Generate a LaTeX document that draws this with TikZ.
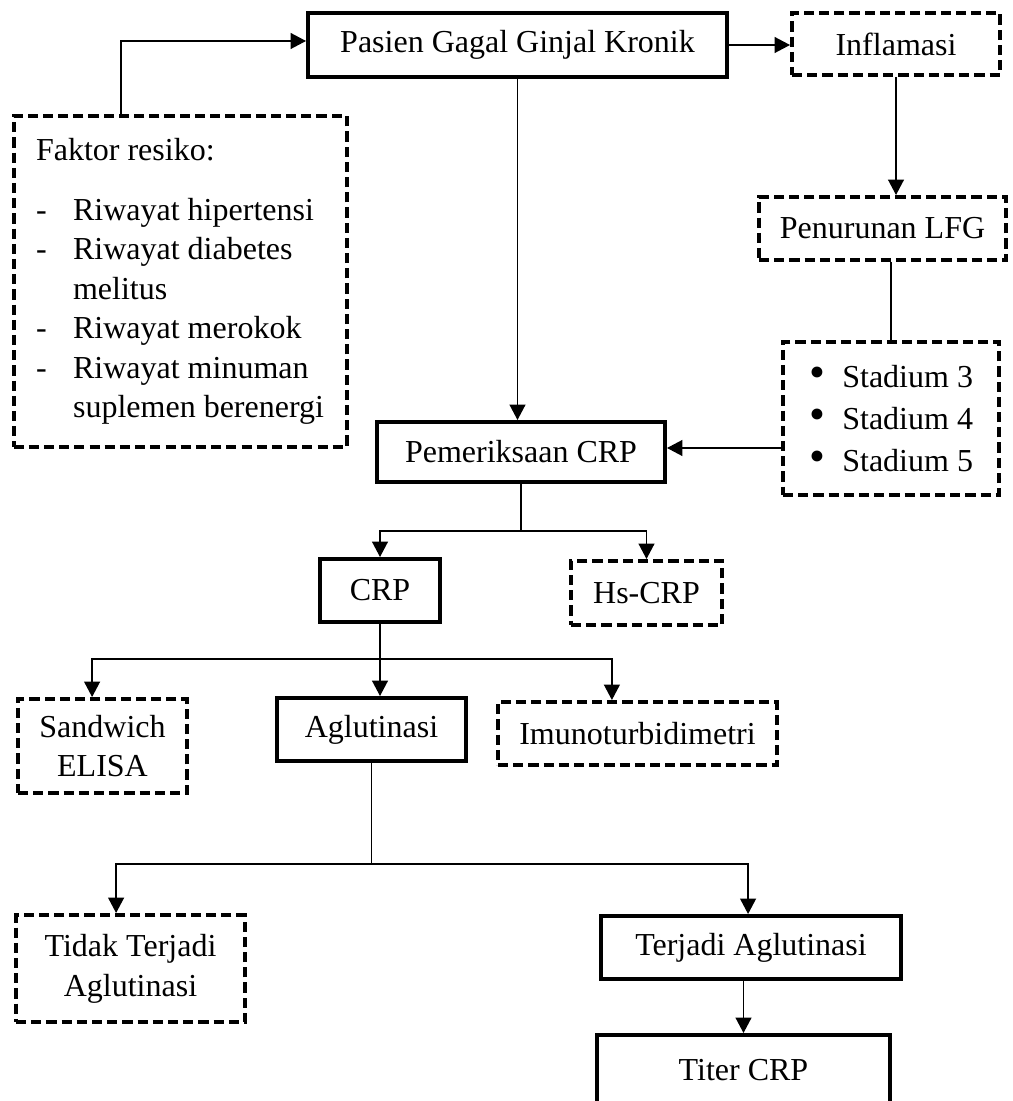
\documentclass[tikz,border=0pt]{standalone}
\usepackage{fontspec}
\setmainfont{Liberation Serif}
\usetikzlibrary{arrows.meta}
\newlength{\unitpx}
\setlength{\unitpx}{0.375pt}
\newcommand{\dashitem}[1]{\makebox[13.9pt][l]{-}#1}
\newcommand{\bulitem}[1]{\makebox[12.5pt][l]{\fontsize{17}{17}\selectfont\textbullet}#1}
\tikzset{
  sbox/.style={draw, line width=1.5pt, inner sep=0pt, font=\fontsize{12}{14.8}\selectfont, align=center},
  dbox/.style={sbox, dash pattern=on 3.8pt off 1.9pt},
  conn/.style={line width=0.5pt},
  arr/.style={conn, -{Triangle[length=5.8pt,width=6pt]}}
}
\begin{document}
\begin{tikzpicture}[x=0.375pt,y=-0.375pt]
\useasboundingbox (0,0) rectangle (1012,1101);
\node[sbox, minimum width=419\unitpx, minimum height=64\unitpx] (pasien) at (517.5,45) {Pasien Gagal Ginjal Kronik};
\node[dbox, minimum width=208\unitpx, minimum height=62\unitpx] (inflam) at (896,44) {Inflamasi};
\node[dbox, minimum width=333\unitpx, minimum height=331\unitpx, align=left] (faktor) at (180,281.5)
  {Faktor resiko:\\[7.6pt]
   \dashitem{Riwayat hipertensi}\\
   \dashitem{Riwayat diabetes}\\
   \hspace*{13.9pt}melitus\\
   \dashitem{Riwayat merokok}\\
   \dashitem{Riwayat minuman}\\
   \hspace*{13.9pt}suplemen berenergi};
\node[dbox, minimum width=247\unitpx, minimum height=63\unitpx] (lfg) at (882.5,228.5) {Penurunan LFG};
\node[dbox, minimum width=216\unitpx, minimum height=153\unitpx, align=left] (stad) at (891,418.5)
  {\bulitem{Stadium 3}\\[0.8pt] \bulitem{Stadium 4}\\[0.8pt] \bulitem{Stadium 5}};
\node[sbox, minimum width=288\unitpx, minimum height=60\unitpx] (periksa) at (521,452) {Pemeriksaan CRP};
\node[sbox, minimum width=120\unitpx, minimum height=63\unitpx] (crp) at (380,590.5) {CRP};
\node[dbox, minimum width=151\unitpx, minimum height=64\unitpx] (hscrp) at (646.5,593) {Hs-CRP};
\node[dbox, minimum width=169\unitpx, minimum height=94\unitpx] (sandw) at (102.5,746) {Sandwich\\ELISA};
\node[sbox, minimum width=189\unitpx, minimum height=63\unitpx] (aglut) at (371.5,729.5) {Aglutinasi};
\node[dbox, minimum width=279\unitpx, minimum height=63\unitpx] (imuno) at (637.5,733.5) {Imunoturbidimetri};
\node[dbox, minimum width=229\unitpx, minimum height=107\unitpx] (tidak) at (130.5,968.5) {Tidak Terjadi\\[0.2pt]Aglutinasi};
\node[sbox, minimum width=300\unitpx, minimum height=63\unitpx] (terjadi) at (751,947.5) {Terjadi Aglutinasi};
\node[sbox, minimum width=293\unitpx, minimum height=70\unitpx] (titer) at (743.5,1070) {Titer CRP};
%
\coordinate (pin) at ([yshift=1.5pt]periksa.east);
\draw[arr] ([xshift=41pt]faktor.north west) |- ([yshift=1.5pt]pasien.west);
\draw[arr] (pasien.east) -- (pasien.east -| inflam.west);
\draw[arr] (inflam.south) -- (inflam.south |- lfg.north);
\draw[conn] (lfg.south -| stad.north) -- (stad.north);
\draw[arr] (pasien.south) -- (pasien.south |- periksa.north);
\draw[arr] (stad.west |- pin) -- (pin);
\draw[conn] (periksa.south) -- ++(0,47) coordinate (br1);
\foreach \n in {crp,hscrp} \draw[arr] (br1) -| (\n.north);
\draw[conn] (crp.south) -- ++(0,35) coordinate (br2);
\draw[arr] (br2) -- (br2 |- aglut.north);
\foreach \n/\s in {sandw/-3.9pt,imuno/-9.6pt} \draw[arr] (br2) -| ([xshift=\s]\n.north);
\draw[conn] (aglut.south) -- ++(0,101) coordinate (br3);
\foreach \n/\s in {tidak/-5.4pt,terjadi/-1.1pt} \draw[arr] (br3) -| ([xshift=\s]\n.north);
\draw[arr] (terjadi.south -| titer.north) -- (titer.north);
\end{tikzpicture}
\end{document}
